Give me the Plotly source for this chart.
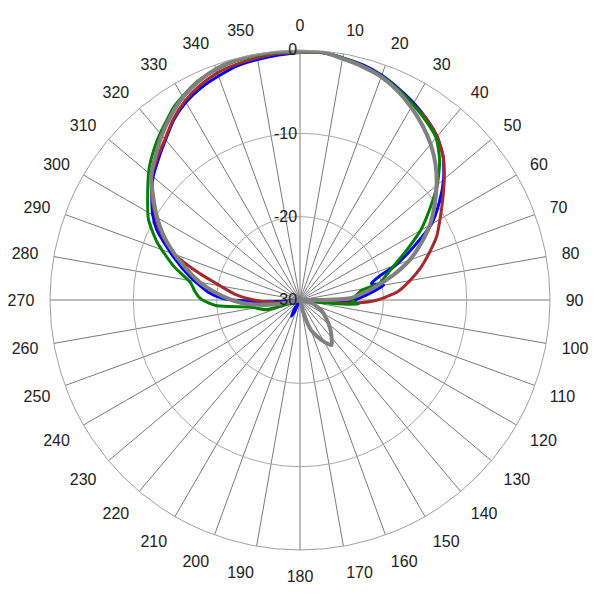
import plotly.graph_objects as go

# ---- data (dB vs angle in degrees) ----
blue_theta = [0, 5, 10, 15, 20, 25, 30, 35, 40, 45, 50, 55, 60, 65, 70, 73, 77, 80, 83, 88, 92, 95, 100,
              150, 200, 205, 208, 212, 215, 240, 264, 266, 268, 271, 275, 282, 289, 296, 300, 305, 310,
              315, 320, 325, 330, 335, 340, 345, 350, 355, 360]
blue_db = [-0.3, -0.2, -0.5, -0.8, -1.3, -2.0, -2.7, -3.5, -4.4, -5.7, -7.5, -9.6, -11.8, -15.0, -17.8,
           -19.9, -21.2, -19.8, -21.0, -22.8, -24.0, -27.0, -30,
           -30, -30, -28.5, -27.8, -29.0, -30, -30, -30, -27.0, -24.8, -20.8, -18.9, -16.5, -13.9, -10.9,
           -9.6, -8.3, -7.0, -6.0, -4.9, -3.6, -2.6, -1.9, -1.4, -0.9, -0.7, -0.5, -0.3]

red_theta = [0, 5, 10, 15, 20, 25, 30, 35, 40, 45, 50, 55, 60, 65, 70, 75, 80, 85, 90, 93, 95, 100,
             180, 255, 260, 265, 270, 275, 280, 285, 290, 295, 300, 305, 310, 315, 320, 325, 330, 335,
             340, 345, 350, 355, 360]
red_db = [-0.3, -0.2, -0.5, -0.9, -1.5, -2.2, -2.9, -3.5, -4.4, -5.7, -7.4, -9.1, -10.6, -11.9, -13.5,
          -15.0, -16.6, -18.2, -20.7, -23.2, -27.0, -30,
          -30, -30, -28.0, -26.5, -24.5, -22.2, -20.3, -17.4, -14.0, -11.8, -10.0, -8.3, -6.8, -5.8,
          -4.8, -3.5, -2.4, -1.6, -1.0, -0.7, -0.5, -0.3, -0.3]

green_theta = [0, 5, 10, 15, 20, 25, 30, 35, 40, 45, 50, 55, 60, 65, 70, 75, 78, 81, 85, 90, 94, 96, 100,
               180, 245, 252, 254, 262, 266, 270, 272, 275, 279, 285, 292, 298, 303, 311, 316, 320, 327,
               330, 335, 340, 345, 350, 355, 360]
green_db = [-0.2, -0.2, -0.5, -0.9, -1.4, -2.1, -2.9, -3.7, -4.6, -6.3, -8.5, -11.0, -13.3, -15.9, -18.0,
            -19.5, -20.2, -22.5, -23.2, -23.8, -23.0, -26.0, -30,
            -30, -30, -28.0, -25.8, -24.0, -20.0, -18.3, -17.8, -17.3, -16.7, -14.3, -11.5, -9.4, -8.2,
            -6.0, -4.8, -3.9, -2.3, -1.8, -1.0, -0.6, -0.3, -0.2, -0.2, -0.2]

gray_theta = [0, 5, 10, 15, 20, 25, 30, 35, 40, 45, 50, 55, 60, 65, 70, 75, 80, 85, 88, 90, 95, 100,
              105, 110, 115, 120, 125, 130, 135, 140, 145, 150, 155, 160, 165, 170, 210, 255, 260, 265,
              270, 275, 280, 285, 290, 295, 300, 305, 310, 315, 320, 325, 330, 335, 340, 345, 350, 355, 360]
gray_db = [-0.2, -0.1, -0.6, -1.0, -1.5, -2.3, -3.3, -4.4, -5.6, -7.0, -8.6, -10.3, -12.0, -14.0, -16.0,
           -18.4, -20.8, -22.8, -24.0, -27.0, -30, -30,
           -28.4, -28.0, -27.3, -26.7, -26.2, -25.5, -24.8, -24.1, -23.4, -24.2, -25.2, -26.2, -28.4,
           -30, -30, -30, -27.0, -24.0,
           -21.8, -19.8, -17.8, -16.0, -14.0, -12.0, -10.2, -8.5, -6.7, -5.5, -4.2, -3.0, -1.9, -1.1,
           -0.5, -0.2, -0.1, -0.1, -0.2]

series = [
    ("blue", blue_theta, blue_db, "#0000FF", 3),
    ("red", red_theta, red_db, "#A52A2A", 3),
    ("green", green_theta, green_db, "#008000", 3),
    ("gray", gray_theta, gray_db, "#808080", 4),
]

angle_ticks = list(range(0, 360, 10))
radial_ticks = [-30, -20, -10, 0]

fig = go.Figure()
for name, th, db, color, w in series:
    fig.add_trace(go.Scatterpolar(
        theta=th, r=db, mode="lines", name=name,
        line=dict(color=color, width=w, shape="spline", smoothing=0.6),
        showlegend=False,
    ))

font = dict(family="Liberation Sans, Arial, sans-serif", size=16, color="#222222")

fig.update_layout(
    width=600, height=600,
    margin=dict(l=42, r=58, t=42, b=58),
    paper_bgcolor="white",
    showlegend=False,
    polar=dict(
        bgcolor="white",
        domain=dict(x=[0, 1], y=[0, 1]),
        angularaxis=dict(
            direction="clockwise", rotation=90,
            tickmode="array", tickvals=angle_ticks,
            ticktext=[str(a) for a in angle_ticks],
            showgrid=True, gridcolor="#7a7a7a", gridwidth=1,
            showline=True, linecolor="#a0a0a0", linewidth=1,
            ticks="outside", ticklen=12, tickcolor="rgba(0,0,0,0)",
            tickfont=font,
        ),
        radialaxis=dict(
            range=[-30, 0], tickmode="array", tickvals=radial_ticks,
            ticktext=[str(v) for v in radial_ticks],
            angle=90, side="counterclockwise", tickangle=90,
            showgrid=True, gridcolor="#a8a8a8", gridwidth=1,
            showline=False, ticks="",
            tickfont=font,
        ),
    ),
)

fig.write_html("out.html")
